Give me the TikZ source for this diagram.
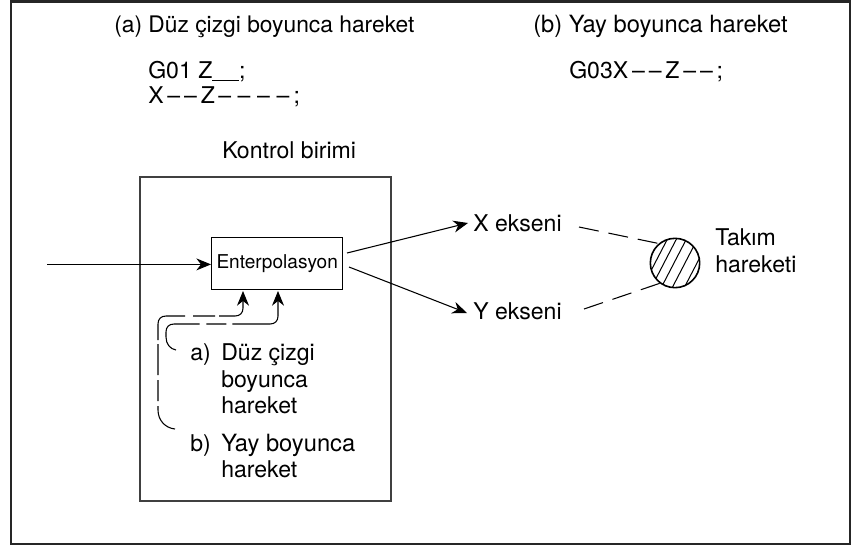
\documentclass[tikz,border=0pt]{standalone}
\usepackage{fontspec}
\setmainfont{TeX Gyre Heros}
\usetikzlibrary{arrows.meta,calc}
\tikzset{
  frame/.style={draw=black!75,line width=1.1pt},
  lab/.style={inner sep=0pt,anchor=base west,font=\fontsize{17.3pt}{20pt}\selectfont},
  labw/.style={inner sep=0pt,anchor=base west,font=\fontsize{17.8pt}{20pt}\selectfont},
  labn/.style={inner sep=0pt,anchor=base west,font=\fontsize{17.1pt}{20pt}\selectfont},
  tip/.style={-{Stealth[length=11pt,width=9pt,inset=3.5pt]}},
  conn/.style={line width=0.8pt,tip},
  longdash/.style={line width=0.8pt,dash pattern=on 15pt off 7.5pt},
}
\begin{document}
\begin{tikzpicture}[x=0.75pt,y=-0.75pt]
\useasboundingbox (0,0) rectangle (855,546);
\draw[draw=black!85,line width=1.5pt] (11,1.5) rectangle (850,544);
\draw[frame] (140,177) rectangle (391,501);
\node[labn] (ta) at (114,32) {(a) Düz çizgi boyunca hareket};
\node[labw] (tb) at (533,32) {(b) Yay boyunca hareket};
\node[lab] (g1) at (148,78) {G01 Z\rule[-2.2pt]{20pt}{0.5pt};};
\node[lab] (g2) at (148,103) {X\,--\,--\,Z\kern2.5pt--\kern5pt--\kern5pt--\kern5pt--\kern3pt;};
\node[lab] (g3) at (569,78) {G03X\,--\,--\,Z\,--\,--\,;};
\node[lab] (k) at (222,158) {Kontrol birimi};
\node[draw,line width=0.8pt,inner sep=0pt,minimum width=98.5pt,minimum height=39pt,anchor=north west,font=\fontsize{14.3pt}{16pt}\selectfont] (e) at (211,237) {Enterpolasyon};
\coordinate (in) at (47,264.4);
\draw[conn] (in) -- (e.west |- in);
\coordinate (xs) at (347,253);
\coordinate (ys) at (349,267);
\node[lab] (x) at (473,231) {X ekseni};
\node[lab] (y) at (473,319) {Y ekseni};
\coordinate (xe) at (468,223);
\coordinate (ye) at (467,313);
\draw[conn] (xs) -- (xe);
\draw[conn] (ys) -- (ye);
\node[draw,line width=1.2pt,circle,inner sep=0pt,minimum size=37pt] (c) at (675,263) {};
\begin{scope}
\clip (c.center) circle (24.5);
\foreach \d in {-49,-42,-34,-25,-15,-4,8,20}
  \draw[line width=0.75pt] ($(c.center)+(\d,27)$) -- ($(c.center)+(\d+28,-27)$);
\end{scope}
\node[lab] (t1) at (715,245) {Takım};
\node[lab] (t2) at (715,272) {hareketi};
\coordinate (xd) at (579,227);
\coordinate (yd) at (584,309);
\draw[longdash] (xd) -- (c.130);
\draw[longdash] (yd) -- (c.233);
\node[lab] (a1) at (190,360) {a)};
\node[lab] (a2) at (221,360) {Düz çizgi};
\node[lab] (a3) at (221,387) {boyunca};
\node[lab] (a4) at (221,413) {hareket};
\node[lab] (b1) at (190,451) {b)};
\node[labw] (b2) at (221,451) {Yay boyunca};
\node[lab] (b3) at (221,477) {hareket};
\coordinate (as) at (176,350);
\coordinate (bs) at (175,429);
\coordinate (ae) at (278,291);
\coordinate (be) at (243,291);
\draw[line width=0.8pt,dash pattern=on 46pt off 5pt on 15pt off 4.5pt on 90pt,tip]
  (as) .. controls (170,349) and (166,344) .. (166,337) -- (166,332)
  .. controls (166,327) and (169,324) .. (174,324) -- (270,324)
  .. controls (275,324) and (278,321) .. (278,316) -- (ae);
\draw[line width=0.8pt,dash pattern=on 24pt off 3.75pt on 15.75pt off 3.75pt on 23.25pt off 3pt on 36pt off 6pt on 16.5pt off 3pt on 90pt,tip]
  (bs) .. controls (165,428) and (158,420) .. (158,410) -- (158,324)
  .. controls (158,319) and (161,316) .. (166,316) -- (235,316)
  .. controls (240,316) and (243,313) .. (243,308) -- (be);
\end{tikzpicture}
\end{document}
